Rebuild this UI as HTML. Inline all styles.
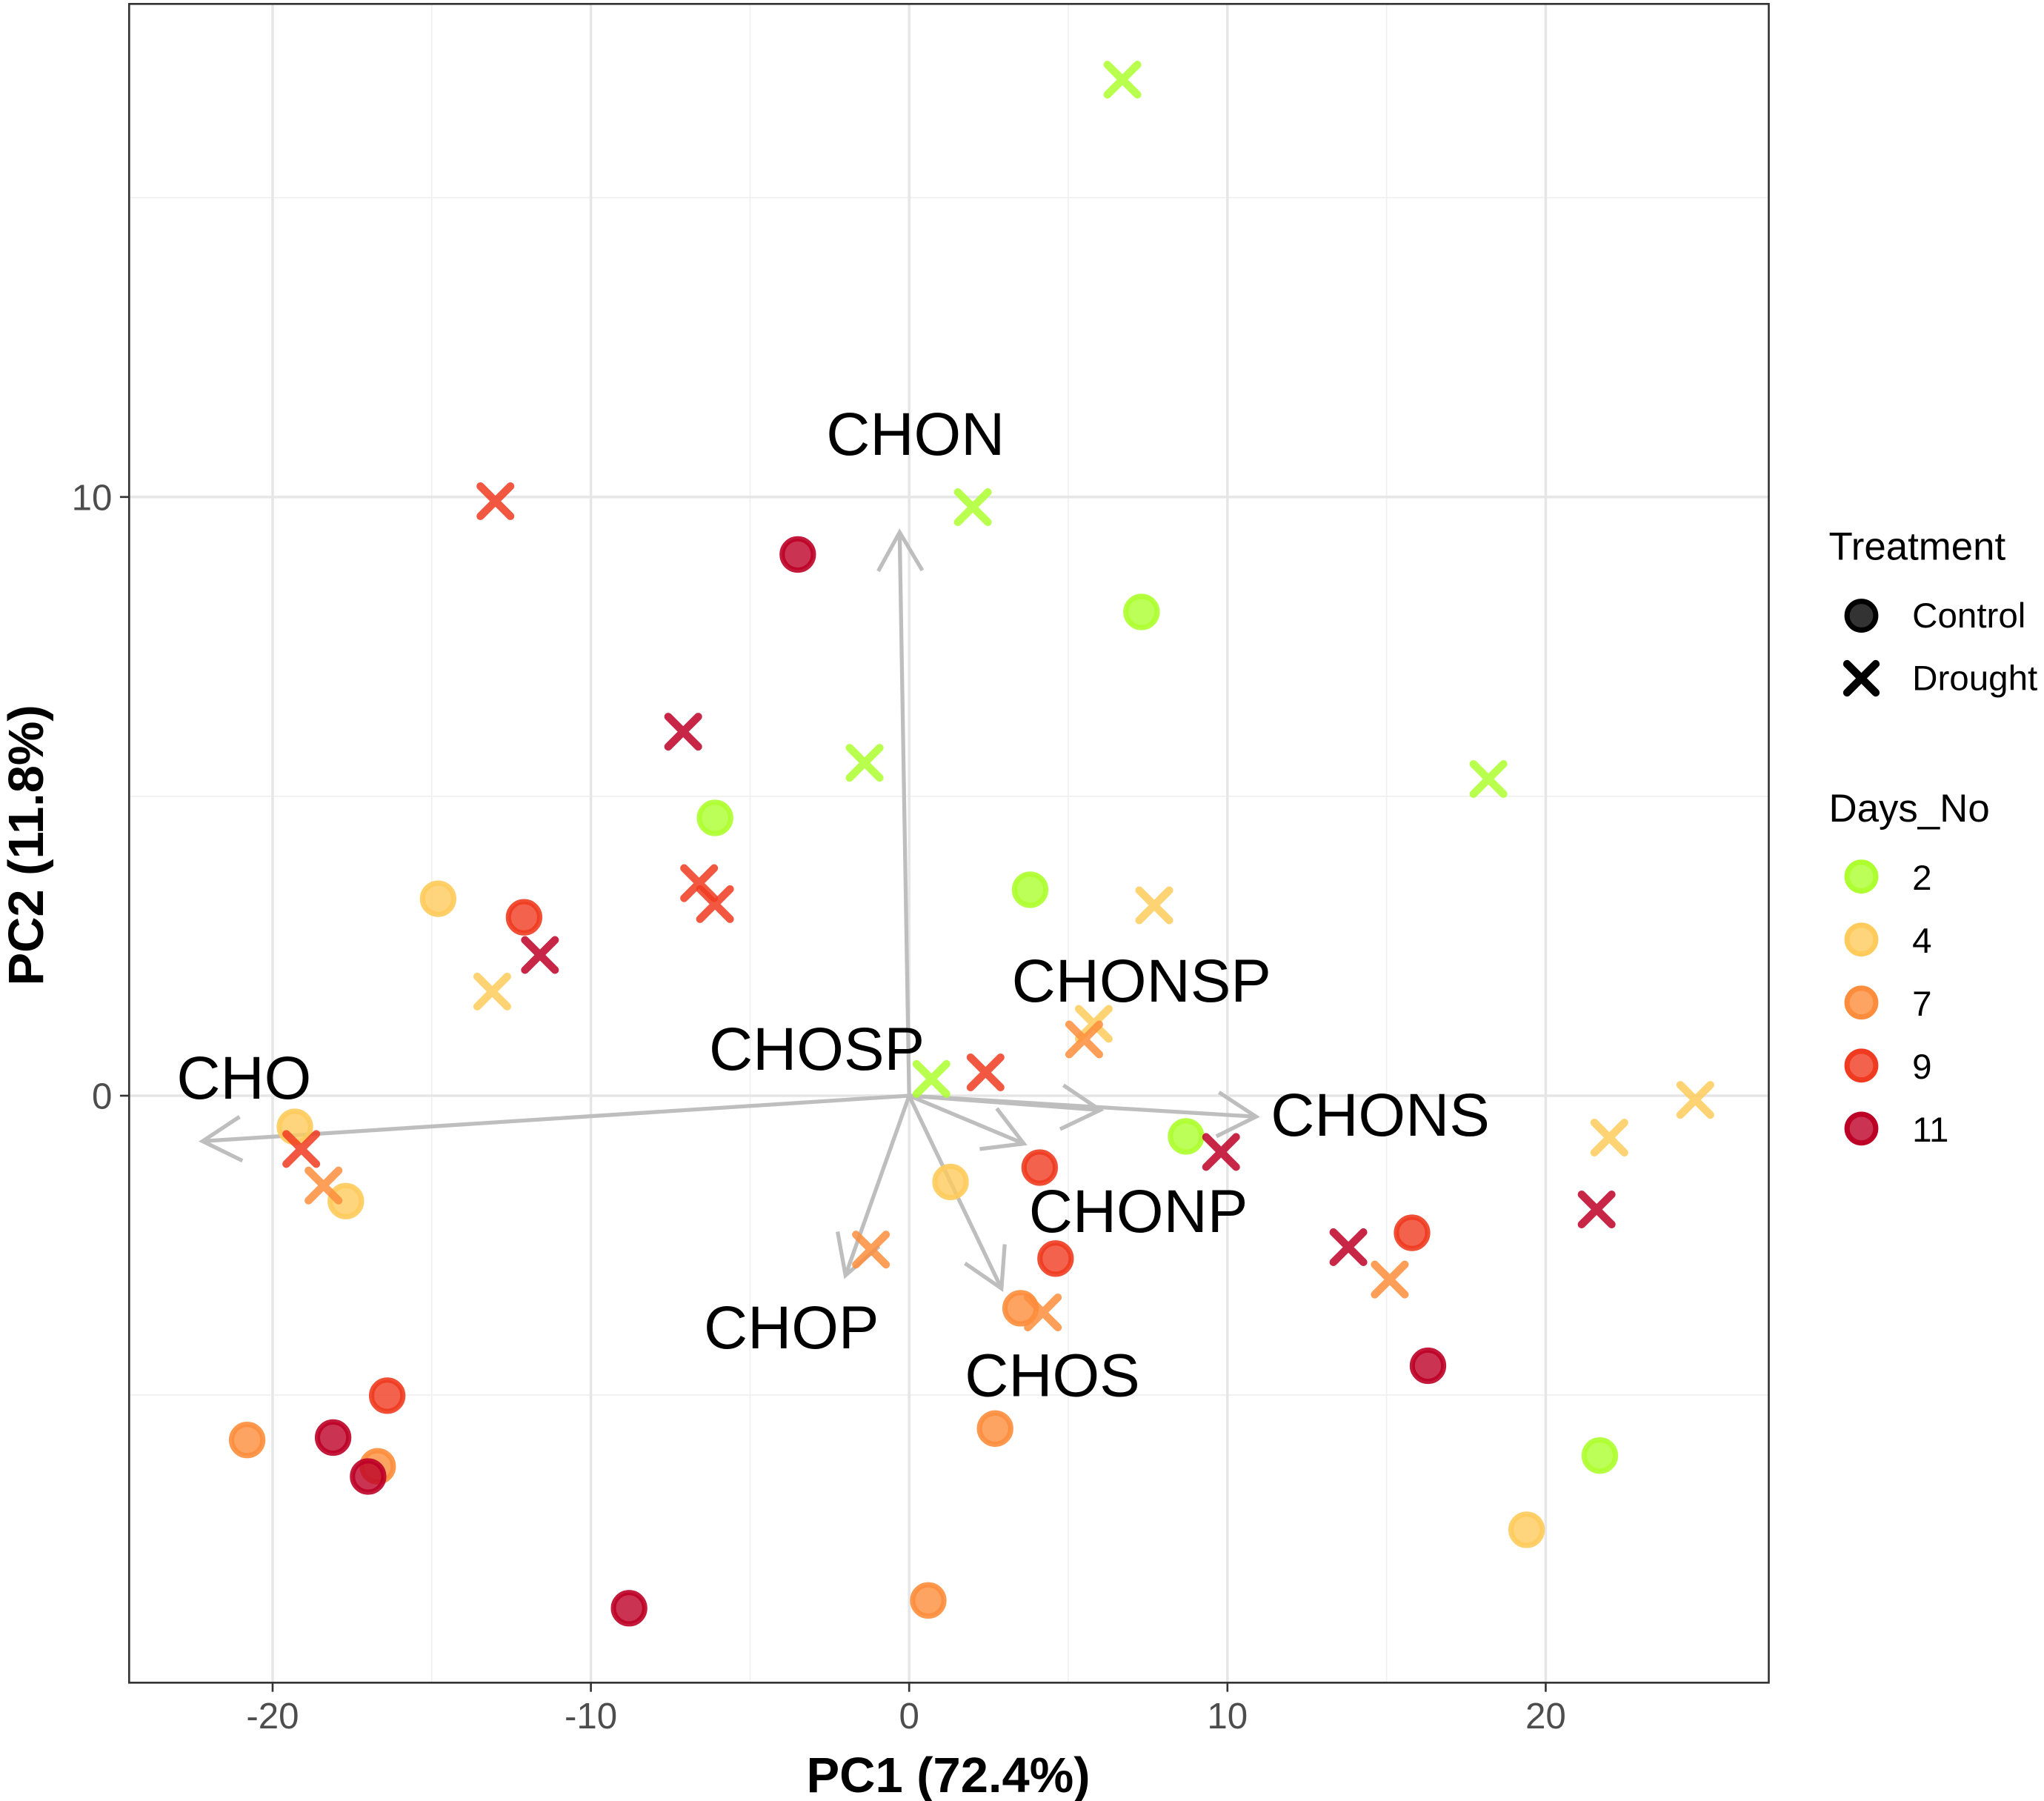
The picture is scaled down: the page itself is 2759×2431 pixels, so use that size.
<!DOCTYPE html>
<html><head><meta charset="utf-8"><style>
html,body{margin:0;padding:0;background:#fff;}
svg{display:block;font-family:"Liberation Sans",Arial,sans-serif;}
</style></head><body>
<svg id="chart" width="2759" height="2431" viewBox="0 0 1567 1380.7" xmlns="http://www.w3.org/2000/svg">
<rect x="0" y="0" width="1567" height="1381" fill="#fff"/>
<g id="grid"></g>
<g id="arrows"></g>
<g id="points"></g>
<g id="labels"></g>
<rect x="99" y="3" width="1257" height="1287" fill="none" stroke="#333" stroke-width="1.5"/>
<g id="axes"></g>
<text x="727" y="1374" font-size="38" font-weight="bold" text-anchor="middle">PC1 (72.4%)</text>
<text transform="translate(33,648) rotate(-90)" font-size="38" font-weight="bold" text-anchor="middle">PC2 (11.8%)</text>
<g id="legend"></g>
</svg>
<script>
const days = ['2','4','7','9','11'];
const dayColors = ['#adff2f','#fecb5c','#fd8d3c','#f03b20','#bd0026'];
const xTicks = [-20,-10,0,10,20];
const yTicks = [0,10];
const xMinor = [-15,-5,5,15];
const yMinor = [-5,5,15];
// Drought points
const dX = [6.7,2.0,-1.4,18.2,0.7,-13.0,-7.1,-6.6,-6.1,-11.6,-13.1,7.7,5.8,5.5,2.4,-19.1,-18.4,-1.2,4.2,9.8,13.8,15.1,21.6,22.0,24.7];
const dY = [16.97,9.83,5.56,5.29,0.28,9.93,6.08,3.55,3.2,2.35,1.74,3.18,1.2,0.94,0.39,-0.89,-1.5,-2.57,-3.62,-0.94,-2.53,-3.07,-1.9,-0.7,-0.07];
const dDay = ['2','2','2','2','2','9','11','9','9','11','4','4','4','7','9','9','7','7','7','11','11','7','11','4','4'];
// Control points
const cX = [-3.5,7.3,-6.1,3.8,-14.8,-12.1,-19.3,-17.7,8.7,1.3,4.1,4.6,3.5,15.8,16.3,-16.4,-20.8,-18.1,-16.7,-17.0,2.7,21.7,19.4,0.6,-8.8];
const cY = [9.04,8.08,4.64,3.44,3.29,2.98,-0.52,-1.76,-0.68,-1.44,-1.2,-2.72,-3.55,-2.29,-4.51,-5.01,-5.75,-5.71,-6.19,-6.36,-5.56,-6.01,-7.25,-8.43,-8.56];
const cDay = ['11','2','2','2','4','9','4','4','2','4','9','9','7','9','11','9','7','11','7','11','7','2','4','7','11'];
// Loadings
const loadNames = ['CHO','CHON','CHONS','CHONSP','CHONP','CHOS','CHOP'];
const loadX = [-22.2,-0.3,10.9,6.0,3.6,2.9,-2.0];
const loadY = [-0.76,9.41,-0.35,-0.24,-0.8,-3.22,-3.0];
const labelNames = ['CHON','CHONSP','CHOSP','CHO','CHONS','CHONP','CHOP','CHOS'];
const labelX = [0.2,7.3,-2.9,-20.9,14.8,7.2,-3.7,4.5];
const labelY = [11.05,1.92,0.78,0.3,-0.32,-1.93,-3.87,-4.67];
const labelAnchor = ['middle','middle','middle','middle','middle','middle','middle','middle'];

const sx = v => 697 + v*24.4;
const sy = v => 840 - v*45.9;
const NS='http://www.w3.org/2000/svg';
function mk(tag, attrs, parent){const e=document.createElementNS(NS,tag);for(const k in attrs)e.setAttribute(k,attrs[k]);parent.appendChild(e);return e;}
const grid=document.getElementById('grid');
xMinor.forEach(v=>{const l=mk('line',{x1:sx(v),x2:sx(v),y1:3,y2:1290,stroke:'#f0f0f0','stroke-width':1},grid);

});
yMinor.forEach(v=>{const l=mk('line',{x1:99,x2:1356,y1:sy(v),y2:sy(v),stroke:'#f0f0f0','stroke-width':1},grid);

});
xTicks.forEach(v=>{const l=mk('line',{x1:sx(v),x2:sx(v),y1:3,y2:1290,stroke:'#e6e6e6','stroke-width':2},grid);

});
yTicks.forEach(v=>{const l=mk('line',{x1:99,x2:1356,y1:sy(v),y2:sy(v),stroke:'#e6e6e6','stroke-width':2},grid);

});
const axes=document.getElementById('axes');
xTicks.forEach(v=>{mk('line',{x1:sx(v),x2:sx(v),y1:1290,y2:1297,stroke:'#333','stroke-width':1.5},axes);
const t=mk('text',{x:sx(v),y:1325,'font-size':28,fill:'#4d4d4d','text-anchor':'middle'},axes);t.textContent=v;

});
yTicks.forEach(v=>{mk('line',{x1:92,x2:99,y1:sy(v),y2:sy(v),stroke:'#333','stroke-width':1.5},axes);
const t=mk('text',{x:86,y:sy(v)+10,'font-size':28,fill:'#4d4d4d','text-anchor':'end'},axes);t.textContent=v;

});
// arrows
const arrows=document.getElementById('arrows');
loadNames.forEach((n,i)=>{const x0=sx(0),y0=sy(0),x1=sx(loadX[i]),y1=sy(loadY[i]);
const g=mk('g',{},arrows);


mk('line',{x1:x0,y1:y0,x2:x1,y2:y1,stroke:'#bebebe','stroke-width':3},g);
const a=Math.atan2(y1-y0,x1-x0),L=34,s=0.52;
const p1=[x1-L*Math.cos(a-s),y1-L*Math.sin(a-s)],p2=[x1-L*Math.cos(a+s),y1-L*Math.sin(a+s)];
mk('polyline',{points:`${p1} ${x1},${y1} ${p2}`,fill:'none',stroke:'#bebebe','stroke-width':3},g);});
// points
const pts=document.getElementById('points');
function col(d){return dayColors[days.indexOf(d)];}
cX.forEach((v,i)=>{const c=col(cDay[i]);const e=mk('circle',{cx:sx(v),cy:sy(cY[i]),r:12,fill:c,stroke:c,'stroke-width':4,'fill-opacity':0.8,'stroke-opacity':0.9},pts);

});
dX.forEach((v,i)=>{const c=col(dDay[i]);const x=sx(v),y=sy(dY[i]),h=11.5;
const e=mk('path',{d:`M${x-h},${y-h}L${x+h},${y+h}M${x-h},${y+h}L${x+h},${y-h}`,stroke:c,'stroke-width':6,'stroke-linecap':'round','stroke-opacity':0.85,fill:'none'},pts);

});
// labels
const labs=document.getElementById('labels');
labelNames.forEach((n,i)=>{const t=mk('text',{x:sx(labelX[i]),y:sy(labelY[i])+16,'font-size':46.5,'text-anchor':labelAnchor[i],fill:'#000'},labs);t.textContent=n;

});
// legend
const lg=document.getElementById('legend');
function txt(x,y,s,str,name){const t=mk('text',{x:x,y:y,'font-size':s,fill:'#000'},lg);t.textContent=str;

return t;}
txt(1402,429,30,'Treatment','legend-title-treatment');
mk('circle',{cx:1427,cy:472,r:11,fill:'#000',stroke:'#000','stroke-width':4,'fill-opacity':0.8},lg);
txt(1466,481,27,'Control','legend-entry-control');
mk('path',{d:'M1416,509L1438,531M1416,531L1438,509',stroke:'#000','stroke-width':6,'stroke-linecap':'round'},lg);
txt(1466,529,27,'Drought','legend-entry-drought');
txt(1402,630,30,'Days_No','legend-title-days');
days.forEach((d,i)=>{const y=672+i*48.3;
mk('circle',{cx:1427,cy:y,r:11,fill:dayColors[i],stroke:dayColors[i],'stroke-width':4,'fill-opacity':0.8},lg);
txt(1466,y+10,27,d,'legend-entry-day-'+d);});
</script>
</body></html>
